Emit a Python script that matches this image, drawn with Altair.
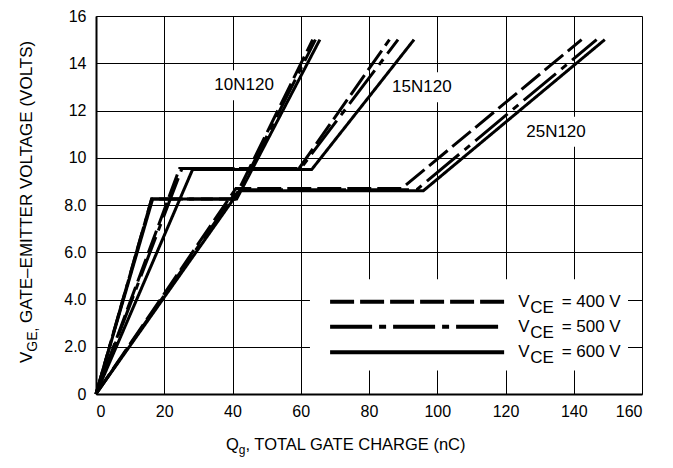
import altair as alt
import pandas as pd

# ---------------- data ----------------
x_ticks = [0, 20, 40, 60, 80, 100, 120, 140, 160]
y_ticks = [0, 2, 4, 6, 8, 10, 12, 14, 16]

devices = ["10N120", "15N120", "25N120"]
vce_levels = ["400", "500", "600"]

q_10_400 = [0, 16.3, 40.5, 63.5]
v_10_400 = [0, 8.25, 8.25, 15.0]
q_10_500 = [0, 16.3, 40.8, 64.3]
v_10_500 = [0, 8.25, 8.25, 15.0]
q_10_600 = [0, 16.6, 41.2, 65.6]
v_10_600 = [0, 8.25, 8.25, 15.0]

q_15_400 = [0, 24.5, 59.5, 86.0]
v_15_400 = [0, 9.55, 9.55, 15.0]
q_15_500 = [0, 25.2, 60.0, 88.5]
v_15_500 = [0, 9.55, 9.55, 15.0]
q_15_600 = [0, 28.3, 63.2, 93.2]
v_15_600 = [0, 9.5, 9.5, 15.0]

q_25_400 = [0, 41.0, 89.6, 142.3]
v_25_400 = [0, 8.7, 8.7, 15.0]
q_25_500 = [0, 41.5, 94.0, 146.7]
v_25_500 = [0, 8.65, 8.65, 15.0]
q_25_600 = [0, 42.0, 95.9, 149.1]
v_25_600 = [0, 8.6, 8.6, 15.0]

label_q = [43.4, 95.5, 134.8]
label_v = [13.07, 12.98, 11.1]

legend_v = [3.91, 2.85, 1.77]
legend_q_start = 68.6
legend_q_end = 119.6
legend_text_q = 123.7
legend_box_q = [62.7, 155.9]
legend_box_v = [1.0, 4.86]

# ---------------- build tables ----------------
series = {
    ("10N120", "400"): (q_10_400, v_10_400),
    ("10N120", "500"): (q_10_500, v_10_500),
    ("10N120", "600"): (q_10_600, v_10_600),
    ("15N120", "400"): (q_15_400, v_15_400),
    ("15N120", "500"): (q_15_500, v_15_500),
    ("15N120", "600"): (q_15_600, v_15_600),
    ("25N120", "400"): (q_25_400, v_25_400),
    ("25N120", "500"): (q_25_500, v_25_500),
    ("25N120", "600"): (q_25_600, v_25_600),
}
rows = []
for (dev, vce), (qs, vs) in series.items():
    for i, (q, v) in enumerate(zip(qs, vs)):
        rows.append({"device": dev, "vce": vce, "series": dev + "_" + vce,
                     "q": q, "v": v, "i": i})
curves = pd.DataFrame(rows)

labels_df = pd.DataFrame({"label": devices, "q": label_q, "v": label_v})
legend_df = pd.DataFrame({
    "vce": vce_levels, "v": legend_v,
    "q0": [legend_q_start] * 3, "q1": [legend_q_end] * 3,
    "qt": [legend_text_q] * 3,
    "rest": ["= " + s + " V" for s in vce_levels],
})
box_df = pd.DataFrame({"q0": [legend_box_q[0]], "q1": [legend_box_q[1]],
                       "v0": [legend_box_v[0]], "v1": [legend_box_v[1]]})

FONT = "Liberation Sans"
dash_scale = alt.Scale(domain=vce_levels,
                       range=[[24, 6], [42, 7, 7, 7], [1, 0]])

xscale = alt.Scale(domain=[0, 160], nice=False, zero=False)
yscale = alt.Scale(domain=[0, 16], nice=False, zero=False)

x_axis = alt.Axis(values=x_ticks, title=None, grid=True, gridColor="black",
                  gridWidth=1, gridOpacity=1, ticks=False, tickSize=0,
                  labelPadding=9, labelFontSize=16, labelFont=FONT,
                  labelColor="black", domainColor="black", domainWidth=2)
y_axis = alt.Axis(values=y_ticks, title=None, grid=True, gridColor="black",
                  gridWidth=1, gridOpacity=1, ticks=False, tickSize=0,
                  labelPadding=10, labelFontSize=16, labelFont=FONT,
                  labelColor="black", domainColor="black", domainWidth=2,
                  labelExpr="datum.value == 0 ? '0' : (datum.value < 10 ? format(datum.value, '.1f') : format(datum.value, 'd'))")

lines = alt.Chart(curves).mark_line(
    color="black", strokeWidth=3, strokeCap="butt", strokeJoin="miter"
).encode(
    x=alt.X("q:Q", scale=xscale, axis=x_axis),
    y=alt.Y("v:Q", scale=yscale, axis=y_axis),
    detail="series:N",
    order="i:Q",
    strokeDash=alt.StrokeDash("vce:N", scale=dash_scale, legend=None),
)

label_masks = alt.Chart(labels_df).mark_rect(
    color="white", width=70, height=30
).encode(x="q:Q", y="v:Q")

label_text = alt.Chart(labels_df).mark_text(
    font=FONT, fontSize=17, color="black", align="center", baseline="middle"
).encode(x="q:Q", y="v:Q", text="label:N")

legend_box = alt.Chart(box_df).mark_rect(color="white").encode(
    x="q0:Q", x2="q1:Q", y="v0:Q", y2="v1:Q")

legend_lines = alt.Chart(legend_df).mark_rule(
    color="black", strokeWidth=4, strokeCap="butt"
).encode(
    x="q0:Q", x2="q1:Q", y="v:Q",
    strokeDash=alt.StrokeDash("vce:N", scale=dash_scale, legend=None),
)

legend_v_txt = alt.Chart(legend_df).mark_text(
    font=FONT, fontSize=17, color="black", align="left", baseline="middle"
).encode(x="qt:Q", y="v:Q", text=alt.value("V"))
legend_ce_txt = alt.Chart(legend_df).mark_text(
    font=FONT, fontSize=17, color="black", align="left", baseline="middle",
    dx=12, dy=6
).encode(x="qt:Q", y="v:Q", text=alt.value("CE"))
legend_rest_txt = alt.Chart(legend_df).mark_text(
    font=FONT, fontSize=17, color="black", align="left", baseline="middle",
    dx=43.5
).encode(x="qt:Q", y="v:Q", text="rest:N")

one = alt.Data(values=[{"a": 1}])


def piece(txt, x, y, size, angle=0):
    return alt.Chart(one).mark_text(
        font=FONT, fontSize=size, color="black", align="left",
        baseline="alphabetic", angle=angle
    ).encode(x=alt.value(x), y=alt.value(y), text=alt.value(txt))


xt1 = piece("Q", 130, 434, 16.5)
xt2 = piece("g", 142.8, 438, 12)
xt3 = piece(", TOTAL GATE CHARGE (nC)", 149.5, 434, 16.5)

yt1 = piece("V", -64, 347, 17, 270)
yt2 = piece("GE,", -59, 335.7, 14, 270)
yt3 = piece("GATE\u2013EMITTER VOLTAGE (VOLTS)", -64, 306.9, 17, 270)

chart = alt.layer(
    label_masks, legend_box, lines, label_text,
    legend_lines, legend_v_txt, legend_ce_txt, legend_rest_txt,
    xt1, xt2, xt3, yt1, yt2, yt3,
).properties(
    width=546, height=378,
    autosize="none",
    padding={"left": 88, "top": 8, "right": 20, "bottom": 64},
).configure_view(
    stroke="black", strokeWidth=1
).configure(background="white")

chart.save("out.html", embed_options={"renderer": "svg", "actions": False})
